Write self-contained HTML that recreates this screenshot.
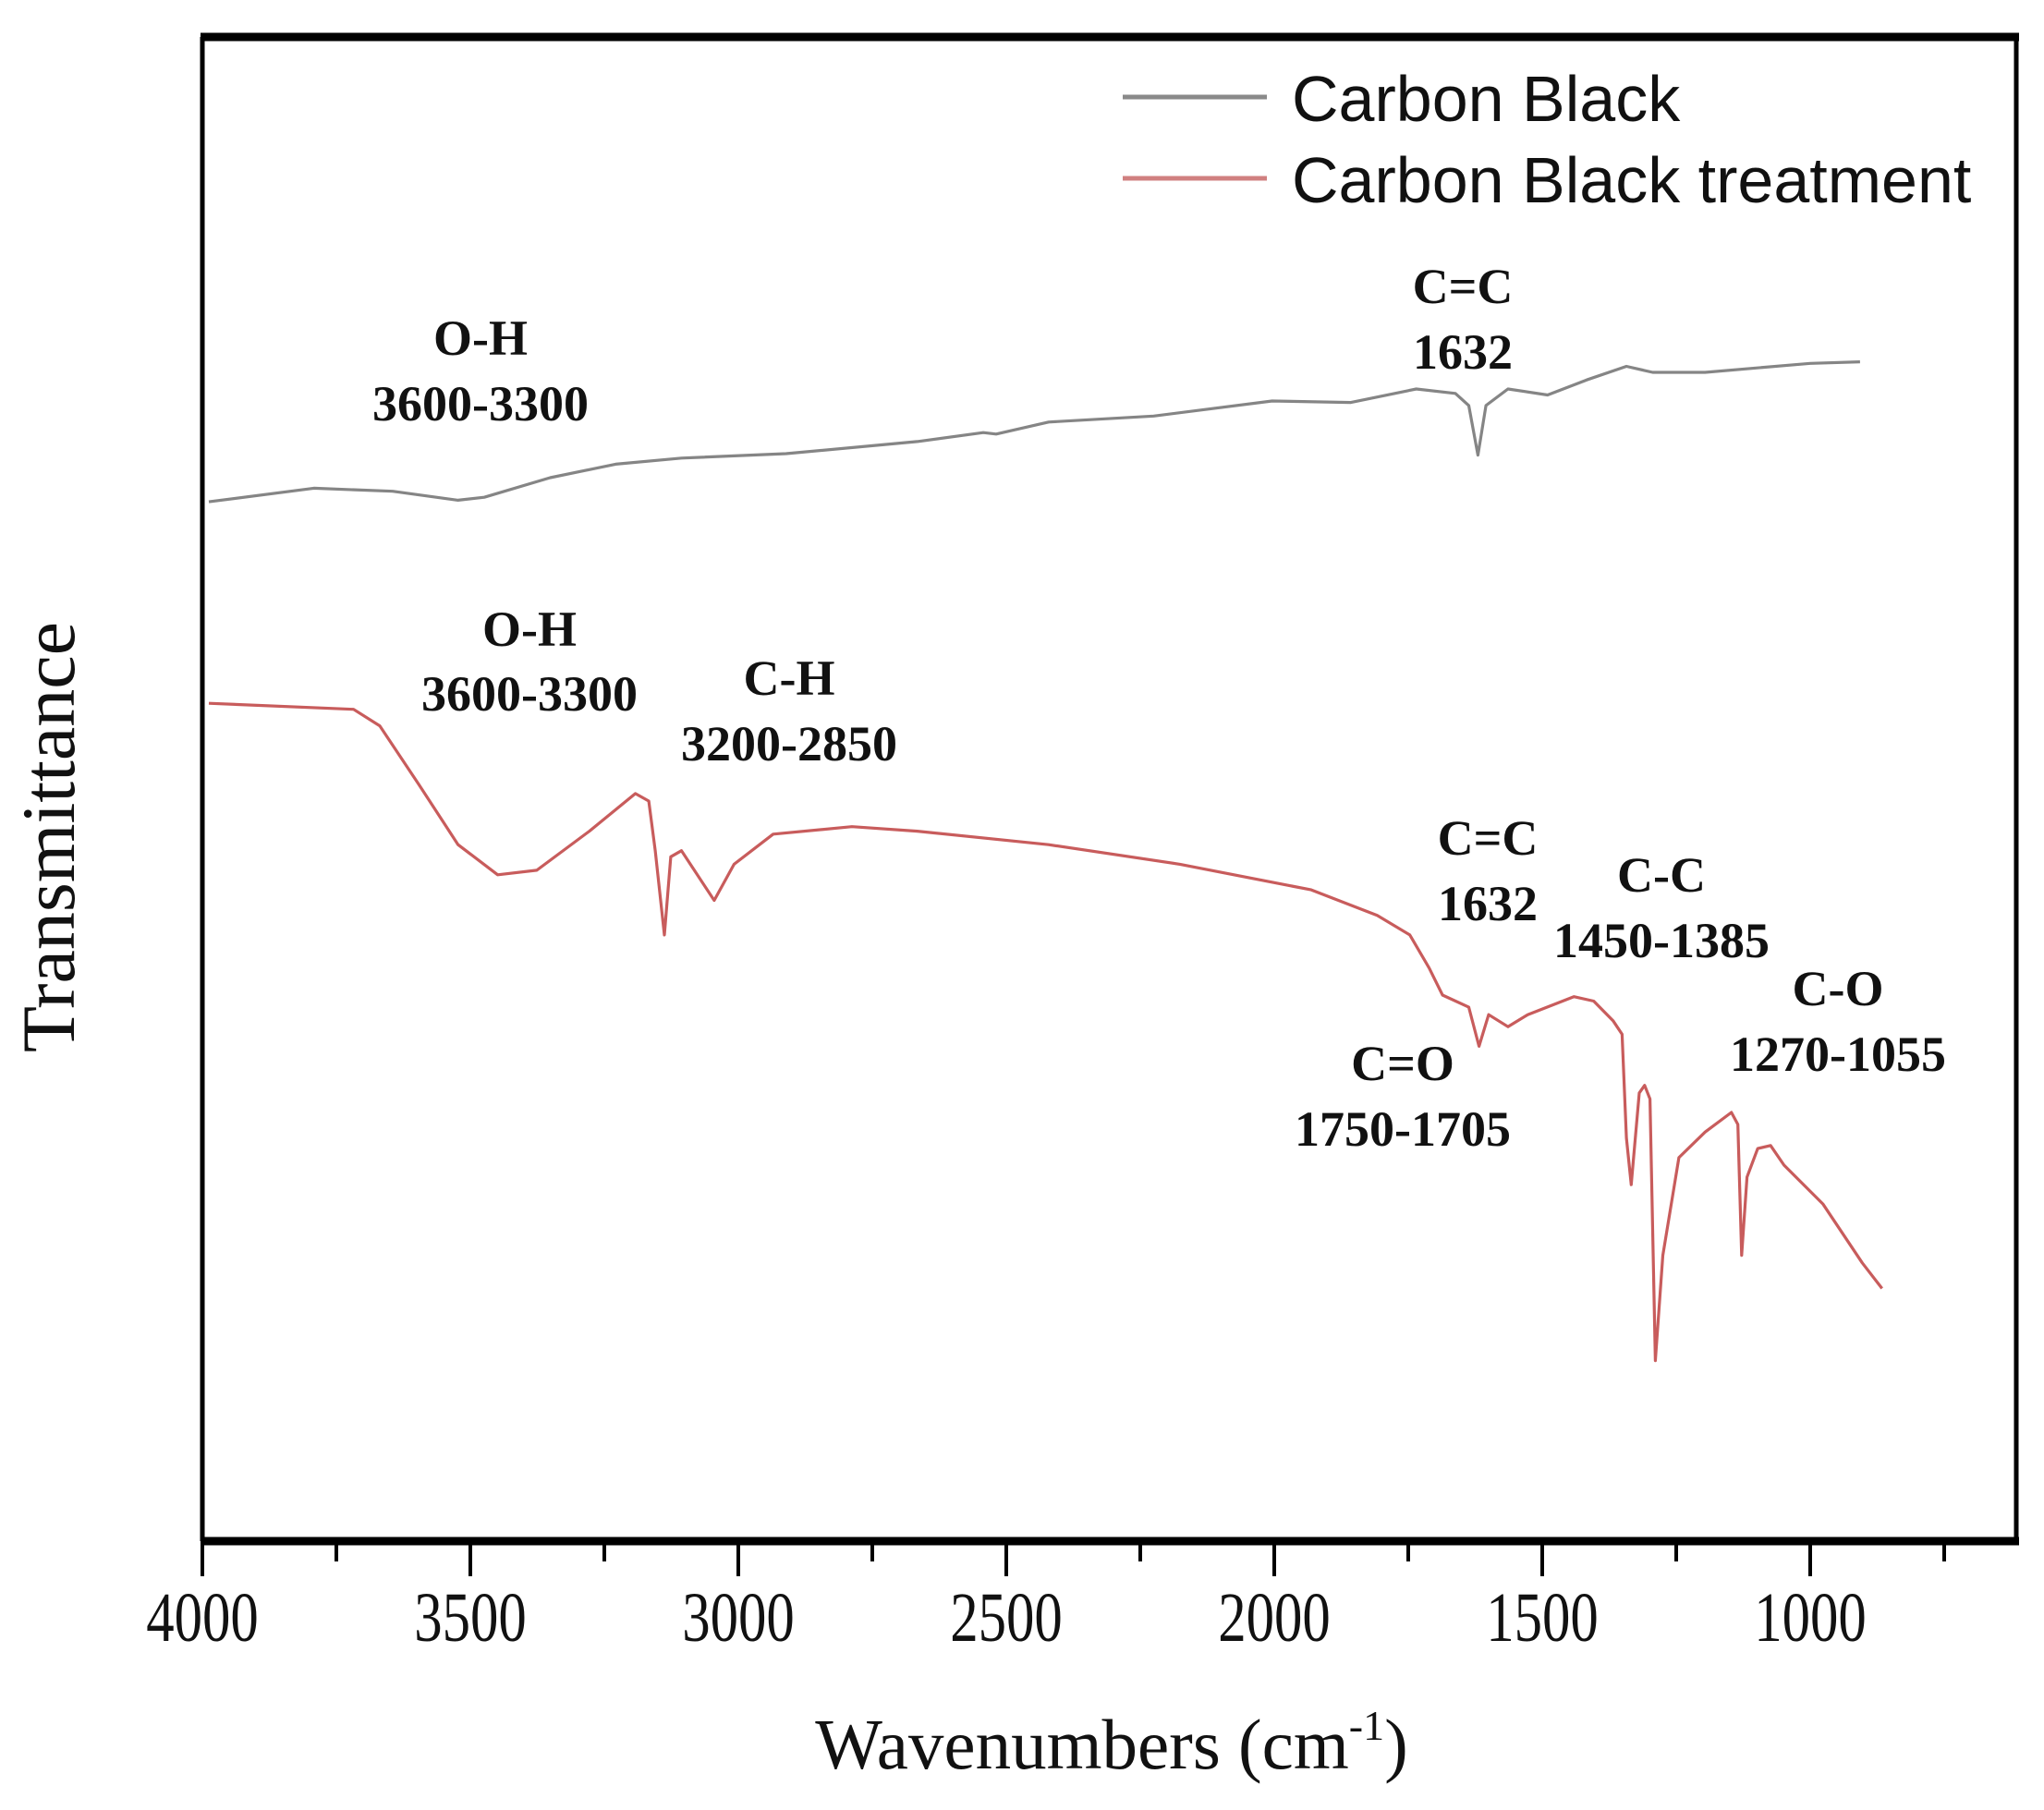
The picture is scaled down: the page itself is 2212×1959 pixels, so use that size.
<!DOCTYPE html>
<html><head><meta charset="utf-8"><style>
html,body{margin:0;padding:0;background:#fff;}
svg{display:block;}
.ann{font-family:"Liberation Serif",serif;font-weight:bold;font-size:54px;fill:#111;text-anchor:middle;}
.tick{font-family:"Liberation Serif",serif;font-size:76px;fill:#111;text-anchor:middle;}
</style></head><body>
<svg id="chart" width="2212" height="1959" viewBox="0 0 2212 1959" xmlns="http://www.w3.org/2000/svg">
<g id="plot"></g>
<g>
 <line x1="1215" y1="105" x2="1371" y2="105" stroke="#8a8a8a" stroke-width="5"/>
 <text x="1398" y="131" font-family="Liberation Sans, sans-serif" font-size="70" fill="#111">Carbon Black</text>
 <line x1="1215" y1="193" x2="1371" y2="193" stroke="#d08080" stroke-width="5"/>
 <text x="1398" y="219" font-family="Liberation Sans, sans-serif" font-size="70" fill="#111">Carbon Black treatment</text>
</g>
<g>
 <text class="ann" x="520" y="384">O-H</text>
 <text class="ann" x="520" y="455">3600-3300</text>
 <text class="ann" x="1583" y="328">C=C</text>
 <text class="ann" x="1583" y="399">1632</text>
 <text class="ann" x="573" y="699">O-H</text>
 <text class="ann" x="573" y="769">3600-3300</text>
 <text class="ann" x="854" y="752">C-H</text>
 <text class="ann" x="854" y="823">3200-2850</text>
 <text class="ann" x="1610" y="925">C=C</text>
 <text class="ann" x="1610" y="996">1632</text>
 <text class="ann" x="1798" y="965">C-C</text>
 <text class="ann" x="1798" y="1036">1450-1385</text>
 <text class="ann" x="1989" y="1088">C-O</text>
 <text class="ann" x="1989" y="1159">1270-1055</text>
 <text class="ann" x="1518" y="1169">C=O</text>
 <text class="ann" x="1518" y="1240">1750-1705</text>
</g>
<text transform="translate(80,906) rotate(-90)" text-anchor="middle" font-family="Liberation Serif, serif" font-size="82" fill="#111">Transmittance</text>
<text x="1203" y="1914" text-anchor="middle" font-family="Liberation Serif, serif" font-size="77" fill="#111">Wavenumbers (cm<tspan dy="-31" font-size="46">-1</tspan><tspan dy="31">)</tspan></text>
</svg>
<script>
const grayWn=[3988,3792,3645,3523,3474,3351,3229,3106,2911,2666,2543,2519,2421,2225,2004,1857,1735,1662,1637,1620,1605,1564,1490,1417,1343,1294,1196,1000,907];
const grayT=[69.1,70.0,69.8,69.2,69.4,70.7,71.6,72.0,72.3,73.1,73.7,73.6,74.4,74.8,75.8,75.7,76.6,76.3,75.5,72.2,75.5,76.6,76.2,77.2,78.1,77.7,77.7,78.3,78.4];
const redWn=[3988,3718,3669,3596,3523,3449,3376,3278,3192,3167,3155,3138,3126,3106,3082,3045,3008,2935,2788,2666,2421,2176,1931,1808,1747,1711,1686,1637,1618,1600,1564,1527,1441,1404,1368,1351,1343,1334,1319,1309,1299,1289,1275,1245,1196,1147,1135,1128,1118,1098,1074,1049,976,903,866];
const redT=[55.7,55.3,54.2,50.3,46.3,44.3,44.6,47.2,49.7,49.2,45.9,40.3,45.5,45.9,44.6,42.6,45.0,47.0,47.5,47.2,46.3,45.0,43.3,41.6,40.3,38.1,36.3,35.5,32.9,35.0,34.2,35.0,36.2,35.9,34.6,33.7,26.8,23.7,29.8,30.3,29.4,12.0,19.0,25.5,27.2,28.5,27.7,19.0,24.2,26.1,26.3,25.0,22.4,18.5,16.8];
const majorTicks=[4000,3500,3000,2500,2000,1500,1000];
const minorTicks=[3750,3250,2750,2250,1750,1250,750];
const tickLabels=["4000","3500","3000","2500","2000","1500","1000"];
const L=219,R=2182,T=40,B=1668;
function xs(w){return L+(4000-w)*0.58;}
function ys(v){return B-v*(B-T)/100;}
const NS="http://www.w3.org/2000/svg";
const plot=document.getElementById('plot');
function mk(tag,attrs){const e=document.createElementNS(NS,tag);for(const k in attrs)e.setAttribute(k,attrs[k]);plot.appendChild(e);return e;}
function series(wn,t,color,name){
 const d=wn.map((w,i)=>(i?'L':'M')+xs(w).toFixed(1)+','+ys(t[i]).toFixed(1)).join(' ');
 const p=mk('path',{d:d,fill:'none',stroke:color,'stroke-width':3.2,'stroke-linejoin':'round'});
 
 
}
series(grayWn,grayT,'#858585','series-carbon-black');
series(redWn,redT,'#c85c5c','series-carbon-black-treatment');
const fl=mk('line',{x1:L,y1:T,x2:L,y2:B,stroke:'#000','stroke-width':5});


const fr=mk('line',{x1:R,y1:T,x2:R,y2:B,stroke:'#000','stroke-width':5});


const ft=mk('line',{x1:L-2,y1:T,x2:R+3,y2:T,stroke:'#000','stroke-width':9});


const fb=mk('line',{x1:L-2,y1:B,x2:R+3,y2:B,stroke:'#000','stroke-width':9});


majorTicks.forEach((w,i)=>{
 const t=mk('line',{x1:xs(w),y1:B,x2:xs(w),y2:B+38,stroke:'#000','stroke-width':4});
 
 
 const lb=mk('text',{class:'tick',transform:'translate('+xs(w)+',1776) scale(0.8,1)'});
 lb.textContent=tickLabels[i];
 
 
});
minorTicks.forEach(w=>{
 const t=mk('line',{x1:xs(w),y1:B,x2:xs(w),y2:B+22,stroke:'#000','stroke-width':4});
 
 
});
</script>
</body></html>
